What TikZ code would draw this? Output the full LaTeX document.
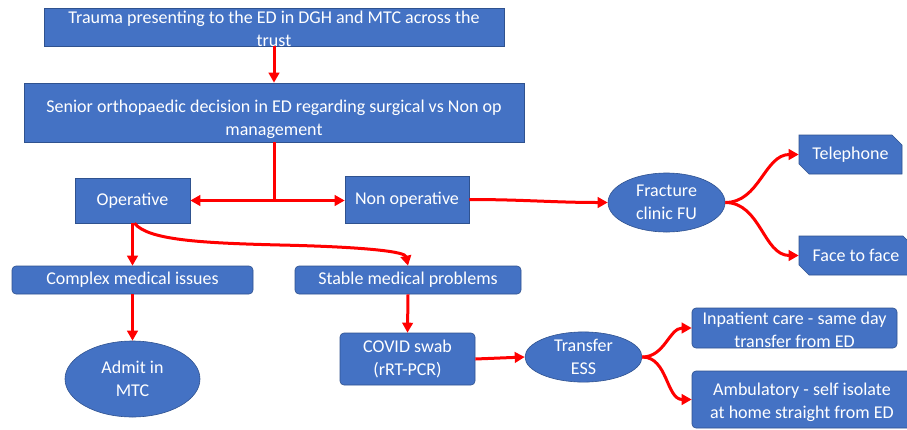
\documentclass[tikz,border=0pt]{standalone}
\usepackage{fontspec}
\setmainfont{Carlito}
\usetikzlibrary{shapes.geometric,shapes.misc,arrows.meta}
\definecolor{boxblue}{HTML}{4472C4}
\definecolor{boxedge}{HTML}{2F528F}
\definecolor{arrred}{HTML}{FF0000}
\begin{document}
\begin{tikzpicture}[x=1pt,y=-1pt,
 box/.style={draw=boxedge, line width=0.6pt, fill=boxblue, text=white, font=\fontsize{18}{23}\selectfont, align=center, inner sep=0pt},
 boxtext/.style={text=white, font=\fontsize{18}{23}\selectfont, align=center, inner sep=0pt},
 rbox/.style={box, rounded corners=4pt},
 oval/.style={box, ellipse},
 chbox/.style={box, chamfered rectangle, chamfered rectangle corners={north east,south west}, chamfered rectangle xsep=5pt, chamfered rectangle ysep=5pt},
 redline/.style={draw=arrred, line width=3pt},
 conn/.style={redline, -{Triangle[length=10pt,width=10.5pt]}},
 ]
\useasboundingbox (0,0) rectangle (907,429);
\node[box, minimum width=460, minimum height=38] (trauma) at (274,27) {};
\node[boxtext] (traumatext) at (274,29) {Trauma presenting to the ED in DGH and MTC across the\\trust};
\node[box, minimum width=500, minimum height=59] (senior) at (274,112.5) {};
\node[boxtext] (seniortext) at (274,119.5) {Senior orthopaedic decision in ED regarding surgical vs Non op\\management};
\node[box, minimum width=115, minimum height=45] (operative) at (132.5,200.5) {Operative};
\node[box, minimum width=124, minimum height=47] (nonop) at (407,199.5) {Non operative};
\node[rbox, minimum width=241, minimum height=28] (complex) at (132.5,280) {Complex medical issues};
\node[rbox, minimum width=226, minimum height=28] (stable) at (408,280) {Stable medical problems};
\node[oval, minimum width=135, minimum height=76] (admit) at (132.5,379) {Admit in\\MTC};
\node[rbox, minimum width=135, minimum height=52] (covid) at (407.5,359) {COVID swab\\(rRT-PCR)};
\node[oval, minimum width=117, minimum height=46] (transfer) at (583.5,357) {Transfer\\ESS};
\node[rbox, minimum width=205, minimum height=40] (inpatient) at (794.5,328) {};
\node[boxtext] (inpatienttext) at (794.5,330) {Inpatient care - same day\\transfer from ED};
\node[rbox, minimum width=220, minimum height=57] (ambulatory) at (802,399.5) {};
\node[boxtext] (ambulatorytext) at (802,402) {Ambulatory - self isolate\\at home straight from ED};
\node[oval, minimum width=117, minimum height=59] (fracture) at (666.5,202.5) {Fracture\\clinic FU};
\node[chbox, minimum width=103, minimum height=39] (telephone) at (850.5,154.5) {Telephone};
\node[chbox, minimum width=114, minimum height=39] (face) at (856,255.5) {Face to face};
\coordinate (split) at (senior.south |- operative.east);
\draw[conn] (trauma.south) -- (trauma.south |- senior.north);
\draw[redline] (senior.south) -- (split);
\draw[conn] (split) -- (operative.east);
\draw[conn] (split) -- (split -| nonop.west);
\draw[conn] (operative.south) -- (complex.north);
\draw[conn] ([xshift=2pt]operative.south) .. controls (148,240) and (200,243) .. (280,245) .. controls (370,247) and (405,252) .. (stable.north);
\draw[conn] (complex.south) -- (admit.north);
\draw[conn] (stable.south) -- (covid.north);
\draw[conn] (covid.east) -- (transfer.west);
\draw[conn] (nonop.east) to[out=0,in=180] (fracture.west);
\draw[conn] (fracture.east) to[out=0,in=180] (telephone.west);
\draw[conn] (fracture.east) to[out=0,in=180] (face.west);
\draw[conn] (transfer.east) to[out=0,in=180] (inpatient.west);
\draw[conn] (transfer.east) to[out=0,in=180] (ambulatory.west);
\end{tikzpicture}
\end{document}
